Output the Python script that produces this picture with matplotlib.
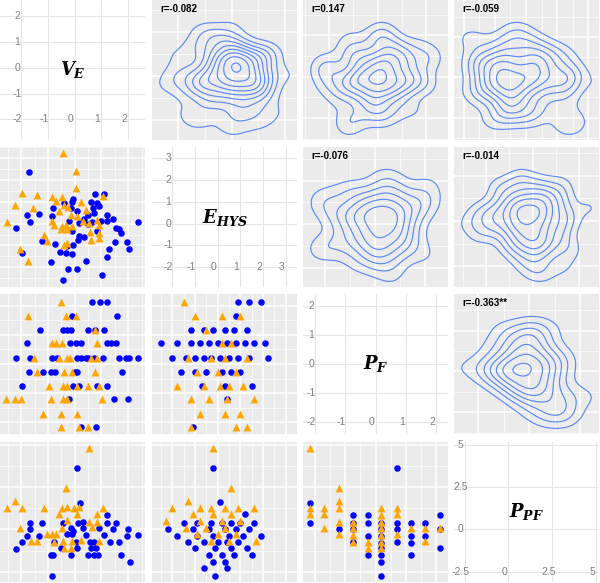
import numpy as np
import matplotlib
matplotlib.use("Agg")
import matplotlib.pyplot as plt
from matplotlib.ticker import MaxNLocator
from matplotlib.transforms import offset_copy

plt.rcParams["mathtext.fontset"] = "custom"
plt.rcParams["mathtext.it"] = "DejaVu Serif:italic:bold"
plt.rcParams["mathtext.rm"] = "DejaVu Serif:bold"

# variables (order of rows / columns)
var_names = [r"$V_E$", r"$E_{HYS}$", r"$P_F$", r"$P_{PF}$"]
var_lims = [(-2.8, 2.63), (-2.9, 3.5), (-2.4, 2.4), (-3.1, 5.15)]
var_breaks = [[-2, -1, 0, 1, 2], [-2, -1, 0, 1, 2, 3], [-2, -1, 0, 1, 2], [-2.5, 0, 2.5, 5]]

# correlation labels of the upper panels (row, col)
r_labels = {(0, 1): "r=-0.082", (0, 2): "r=0.147", (0, 3): "r=-0.059",
            (1, 2): "r=-0.076", (1, 3): "r=-0.014", (2, 3): "r=-0.363**"}

# ---- lower panels: x = column variable, y = row variable ----
# V_E vs E_HYS
ve_ehys_blue_x = [-1.71, 1.08, 0.75, -0.05, -0.09, -0.8, -0.15, 0.85, 0.91, 0.7, -1.78, -1.34, -1.68,
                  -0.84, 0.1, 0.48, 0.73, 1.2, 1.45, 2.35, -2.21, -0.21, 0.16, 0.63, 0.98, 1.2, 1.54,
                  1.66, 1.73, -0.12, 0.16, 0.33, 0.13, 0.83, -1.21, -0.75, -0.05, -0.28, 1.51, 1.95,
                  2.04, 1.29, -1.96, -0.55, -0.34, -0.09, 1.2, -0.88, 0.41, -0.24, 0.08, 1.01, -0.43,
                  0.5, 0.35, -0.4, 0.6]
ve_ehys_blue_y = [2.34, 1.37, 1.35, 1.14, 0.99, 0.72, 0.72, 0.94, 0.79, 0.72, 0.38, 0.44, 0.08,
                  0.33, 0.59, 0.41, 0.49, 0.38, 0.21, 0.08, -0.2, 0.14, 0.03, 0.08, 0.11, 0.11, -0.2,
                  -0.27, -0.43, -0.32, -0.58, -0.62, -0.73, -0.35, -0.81, -0.93, -0.96, -1.04, -0.85, -0.85,
                  -1.16, -1.16, -1.34, -1.31, -1.34, -1.39, -1.54, -1.77, -1.72, -2.07, -2.07, -2.33, -2.56,
                  -0.02, 0.2, 0.95, 1.0]
ve_ehys_orange_x = [-0.43, 0.04, 0.04, -1.99, -1.4, -0.84, -0.49, -2.25, -1.56, -0.71, -0.4, 0.23, 1.04,
                    0.41, -0.59, -0.15, 0.1, -2.55, -0.84, -0.78, -0.46, -0.34, -0.53, -0.28, -0.09, 0.54,
                    0.85, 0.91, -1.15, -1.03, 0.91, 0.6, 0.91, -0.4, -0.28, -2.05, -1.74, 0.58, -0.25, 0.3]
ve_ehys_orange_y = [3.23, 2.42, 1.63, 1.40, 1.32, 1.20, 1.22, 0.87, 0.72, 1.02, 0.87, 0.99, 1.25,
                    0.62, 0.56, 0.41, 0.33, 0.08, 0.11, -0.05, -0.12, -0.05, -0.27, -0.27, -0.12, 0.03,
                    0.18, -0.05, -0.5, -0.81, -0.43, -0.73, -0.65, -0.96, -0.91, -1.14, -1.69, -0.38, 0.75, 0.1]

# V_E vs P_F
ve_pf_blue_x = [0.63, 0.94, 1.2, -0.11, 1.58, -1.31, -0.43, -0.3, -0.15, 0.5, 0.75, 1.1,
                -1.78, -0.18, 0.04, 0.23, 1.2, 1.35, 1.54,
                -2.21, -1.68, -0.84, -0.65, 0.08, 0.23, 0.41, 0.5, 0.73, 1.04, 1.66, 1.91, 2.04, 2.35,
                -1.71, -1.18, -0.9, -0.75, 0.0, 0.1, 1.75,
                -1.96, -0.05, 0.16, 0.85, 1.2, -0.21, 1.48, 1.98, 0.23, 0.79]
ve_pf_blue_y = [2.12, 2.12, 2.12, 1.65, 1.65, 1.16, 1.16, 1.16, 1.16, 1.16, 1.16, 1.16,
                0.72, 0.72, 0.72, 0.72, 0.72, 0.72, 0.72,
                0.19, 0.19, 0.19, 0.19, 0.19, 0.19, 0.19, 0.19, 0.19, 0.19, 0.19, 0.19, 0.19, 0.19,
                -0.26, -0.26, -0.26, -0.26, -0.26, -0.26, -0.26,
                -0.75, -0.75, -0.75, -0.75, -0.75, -1.21, -1.21, -1.21, -2.17, -2.17]
ve_pf_orange_x = [-0.5, -1.74, -0.34, 0.04, 0.76, -0.84, -0.71, -0.49, 0.85,
                  -1.53, -0.59, -0.28, -0.18, 0.6, 0.85, -1.4, -0.4, -0.11, 0.76,
                  -0.96, -0.43, -0.28, 0.1, 0.5, 0.91,
                  -2.59, -2.25, -2.0, -0.88, -0.43, -0.3, 1.01, -1.18, -0.5, 0.08, -0.5, 0.16, 0.51]
ve_pf_orange_y = [2.12, 1.65, 1.65, 1.65, 1.16, 0.72, 0.72, 0.72, 0.72,
                  0.19, 0.19, 0.19, 0.19, 0.19, 0.19, -0.26, -0.26, -0.26, -0.26,
                  -0.75, -0.75, -0.75, -0.75, -0.75, -0.75,
                  -1.21, -1.21, -1.21, -1.21, -1.21, -1.21, -1.21, -1.70, -1.70, -1.70, -2.17, -2.17, -2.17]

# V_E vs P_PF
ve_ppf_blue_x = [0.08, 0.2, 1.2, -1.68, -1.21, -0.43, 0.13, 0.29, 1.2, 1.54, -1.68, -0.15, 0.91, 1.45,
                 1.98, -1.78, -1.34, -0.28, -0.09, 0.41, 1.08, 1.95, 2.35, -1.96, -0.78, 0.04, 0.58,
                 0.73, 1.33, 1.66, -2.21, -0.53, 0.1, 0.6, 0.79, -0.9, -0.81, -0.15, 0.5, 0.73, 0.88,
                 1.73, 2.05, -0.84, -0.05, 0.3]
ve_ppf_blue_y = [3.6, 1.57, 0.85, 0.39, 0.39, 0.39, 0.39, 0.45, 0.39, 0.39, 0.0, 0.06, 0.06, 0.0,
                 0.0, -0.39, -0.39, -0.3, -0.3, -0.35, -0.35, -0.39, -0.35, -0.75, -0.73, -0.73, -0.73,
                 -0.73, -0.75, -0.75, -1.14, -1.12, -1.12, -1.08, -1.12, -1.52, -1.52, -1.52, -1.52, -1.52,
                 -1.52, -1.52, -1.91, -2.76, -0.1, 0.1]
ve_ppf_orange_x = [0.54, -0.31, -2.25, -2.55, -1.99, -1.15, -0.49, -0.28, -0.03, 0.16, 1.04, -0.59,
                   0.1, 0.85, -2.06, -0.28, 0.54, 0.85, -0.46, 0.66, -1.03, -0.84, -0.71, -1.65, -1.4,
                   -0.78, -0.43, -0.09, 0.23, 0.91, -0.4, -0.15]
ve_ppf_orange_y = [4.78, 2.46, 1.67, 1.28, 1.28, 1.28, 1.28, 1.32, 1.28, 1.32, 1.28, 0.89,
                   0.93, 0.89, 0.1, 0.53, 0.45, 0.45, 0.1, 0.14, -0.3, -0.3, -0.3, -0.69, -0.69,
                   -0.73, -0.69, -0.69, -0.65, -0.69, -1.08, -1.08]

# E_HYS vs P_F
ehys_pf_blue_x = [0.9, 1.4, 1.9, 0.8, -1.2, -0.6, -0.2, 0.3, 0.7, 1.3,
                  -2.5, -1.8, -1.2, -0.8, -0.4, 0.0, 0.4, 0.8, 1.2, 1.6, 2.1,
                  -2.0, -1.4, -1.0, -0.6, -0.3, 0.1, 0.5, 0.9, 1.4, 2.2,
                  -1.6, -1.0, -0.5, 0.2, 0.6, 1.0, -0.7, 0.3, 1.5, 0.4, -1.1]
ehys_pf_blue_y = [2.12, 2.12, 2.12, 1.65, 1.16, 1.16, 1.16, 1.16, 1.16, 1.16,
                  0.72, 0.72, 0.72, 0.72, 0.72, 0.72, 0.72, 0.72, 0.72, 0.72, 0.72,
                  0.19, 0.19, 0.19, 0.19, 0.19, 0.19, 0.19, 0.19, 0.19, 0.19,
                  -0.26, -0.26, -0.26, -0.26, -0.26, -0.26, -0.75, -0.75, -0.75, -1.21, -2.17]
ehys_pf_orange_x = [-1.5, -1.0, 0.2, 1.0, -0.5, 0.2, 0.6, -1.3, -0.3, 0.3, 1.3,
                    -0.9, 0.0, 0.8, -1.8, -0.6, 0.1, 0.5, 1.1, -1.2, -0.4, 0.4, 1.6,
                    -0.8, 0.3, 1.0, -1.2, 0.8, 1.3]
ehys_pf_orange_y = [2.12, 1.65, 1.65, 1.65, 1.16, 0.72, 0.72, 0.19, 0.19, 0.19, 0.19,
                    -0.26, -0.26, -0.26, -0.75, -0.75, -0.75, -0.75, -0.75, -1.21, -1.21, -1.21, -1.21,
                    -1.70, -1.70, -1.70, -2.17, -2.17, -2.17]

# E_HYS vs P_PF
ehys_ppf_blue_x = [-0.2, 0.1, 1.2, -1.5, -0.9, -0.3, 0.2, 0.6, 1.0, 1.6, -2.2, -1.1, -0.4, 0.3, 0.8,
                   1.4, -1.8, -0.9, -0.2, 0.5, 1.1, 1.9, -1.3, -0.6, 0.0, 0.4, 0.9, -1.0, -0.1, 0.6,
                   1.3, -0.4, 0.2, 0.7, 1.5, -0.2, 0.3, -0.6, 0.4, -0.1]
ehys_ppf_blue_y = [3.6, 1.6, 0.9, 0.4, 0.4, 0.4, 0.4, 0.4, 0.4, 0.4, 0.0, 0.0, 0.0, 0.0, 0.0,
                   0.0, -0.4, -0.4, -0.4, -0.4, -0.4, -0.4, -0.75, -0.75, -0.75, -0.75, -0.75, -1.1, -1.1, -1.1,
                   -1.1, -1.5, -1.5, -1.5, -1.5, -1.9, -1.9, -2.3, -2.3, -2.76]
ehys_ppf_orange_x = [-0.2, 0.6, -1.3, -2.0, -0.8, -0.3, 0.3, 0.9, 1.6, -1.1, -0.2, 0.6, -2.3, -0.8, 0.2,
                     1.0, -1.4, -0.5, 0.3, -0.9, 0.0, 0.8, -0.3, 0.5, 1.7]
ehys_ppf_orange_y = [4.78, 2.46, 1.67, 1.28, 1.28, 1.28, 1.28, 1.28, 1.28, 0.89, 0.89, 0.89, 0.5, 0.5, 0.5,
                     0.5, 0.1, 0.1, 0.1, -0.3, -0.3, -0.3, -0.7, -0.7, -0.7]

# P_F vs P_PF
pf_ppf_blue_x = [-2.17, -2.17, -1.21, -0.75, -0.75, -0.75, -0.75, -0.26, -0.26, -0.26, -0.26,
                 0.19, 0.19, 0.19, 0.19, 0.19, 0.19, 0.19, 0.19, 0.72, 0.72, 0.72, 0.72,
                 1.16, 1.16, 1.16, 1.16, 1.65, 1.65, 2.12, 2.12, 2.12]
pf_ppf_blue_y = [1.57, 0.39, 0.0, 0.85, 0.39, 0.0, -0.73, 0.85, 0.39, -0.39, -1.52,
                 0.39, 0.0, -0.39, -0.79, -1.12, -1.52, -1.91, -2.76, 3.6, 0.39, 0.0, -0.73,
                 0.39, -0.39, -0.79, -1.52, 0.39, -0.39, 0.85, 0.0, -1.12]
pf_ppf_orange_x = [-2.17, -2.17, -2.17, -1.70, -1.70, -1.70, -1.21, -1.21, -1.21, -1.21, -1.21,
                   -0.75, -0.75, -0.75, -0.75, -0.26, -0.26,
                   0.19, 0.19, 0.19, 0.19, 0.19, 0.19, 0.19, 0.72, 0.72, 0.72,
                   1.16, 1.65, 1.65, 2.12]
pf_ppf_orange_y = [4.78, 1.24, 0.89, 1.24, 0.89, 0.1, 2.46, 1.67, 1.24, 0.45, -0.3,
                   0.45, 0.06, -0.33, -0.73, -0.73, -1.12,
                   1.24, 0.85, 0.45, 0.06, -0.33, -0.73, -1.12, 1.24, 0.89, -0.3,
                   0.06, 0.06, -0.69, 0.1]

lower = {
    (1, 0): (ve_ehys_blue_x, ve_ehys_blue_y, ve_ehys_orange_x, ve_ehys_orange_y),
    (2, 0): (ve_pf_blue_x, ve_pf_blue_y, ve_pf_orange_x, ve_pf_orange_y),
    (3, 0): (ve_ppf_blue_x, ve_ppf_blue_y, ve_ppf_orange_x, ve_ppf_orange_y),
    (2, 1): (ehys_pf_blue_x, ehys_pf_blue_y, ehys_pf_orange_x, ehys_pf_orange_y),
    (3, 1): (ehys_ppf_blue_x, ehys_ppf_blue_y, ehys_ppf_orange_x, ehys_ppf_orange_y),
    (3, 2): (pf_ppf_blue_x, pf_ppf_blue_y, pf_ppf_orange_x, pf_ppf_orange_y),
}

BLUE = "#0000FF"
ORANGE = "#FFA500"
CONTOUR = "#5B8AF2"
W, H = 600, 583
col_x = [0, 152, 303, 454]
row_y = [0, 147, 294, 442]
PW, PH = 145, 140


def minor_breaks(br, lims):
    step = br[1] - br[0]
    m = np.arange(br[0] - step / 2, br[-1] + step, step)
    return [v for v in m if lims[0] <= v <= lims[1]]


def kde2d(x, y, n=120):
    # MASS::kde2d-like estimate with bandwidth.nrd, on a slightly widened grid
    x, y = np.asarray(x), np.asarray(y)

    def bw(v):
        q = np.subtract(*np.percentile(v, [75, 25]))
        return 1.06 * min(np.std(v, ddof=1), q / 1.34) * len(v) ** -0.2

    hx, hy = bw(x), bw(y)
    gx = np.linspace(x.min() - 1.5 * hx, x.max() + 1.5 * hx, n)
    gy = np.linspace(y.min() - 1.5 * hy, y.max() + 1.5 * hy, n)
    kx = np.exp(-0.5 * ((gx[:, None] - x[None, :]) / hx) ** 2)
    ky = np.exp(-0.5 * ((gy[:, None] - y[None, :]) / hy) ** 2)
    z = ky @ kx.T / (2 * np.pi * hx * hy * len(x))
    return gx, gy, z


def style_grey(ax, xl, yl, xbr, ybr):
    ax.set_facecolor("#EBEBEB")
    ax.set_xlim(xl)
    ax.set_ylim(yl)
    ax.set_xticks(xbr)
    ax.set_yticks(ybr)
    ax.set_xticks(minor_breaks(xbr, xl), minor=True)
    ax.set_yticks(minor_breaks(ybr, yl), minor=True)
    ax.grid(which="major", color="white", lw=1.1)
    ax.grid(which="minor", color="white", lw=0.5)


fig = plt.figure(figsize=(W / 100, H / 100), dpi=100)
for i in range(4):
    for j in range(4):
        ax = fig.add_axes([col_x[j] / W, 1 - (row_y[i] + PH) / H, PW / W, PH / H])
        for s in ax.spines.values():
            s.set_visible(False)
        ax.tick_params(length=0, which="both", labelbottom=False, labelleft=False)
        ax.set_axisbelow(True)

        if i == j:
            ax.set_xlim(var_lims[j])
            ax.set_ylim(var_lims[i])
            ax.set_xticks(var_breaks[j])
            ax.set_yticks(var_breaks[i])
            ax.set_facecolor("white")
            ax.grid(which="major", color="#E6E6E6", lw=0.8)
            br = var_breaks[i]
            off = offset_copy(ax.transData, fig=fig, x=-4, y=0, units="dots")
            for k, b in enumerate(br):
                ax.text(b, br[0], f"{b:g}", transform=off, ha="center", va="center",
                        fontsize=7.5, color="#808080", family="Liberation Sans")
                if k > 0:
                    ax.text(br[0], b, f"{b:g}", transform=off, ha="center", va="center",
                            fontsize=7.5, color="#808080", family="Liberation Sans")
            ax.text(0.5, 0.5, var_names[i], transform=ax.transAxes, ha="center",
                    va="center", fontsize=13)
        elif i > j:
            style_grey(ax, var_lims[j], var_lims[i], var_breaks[j], var_breaks[i])
            bx, by, ox, oy = lower[i, j]
            ax.scatter(bx, by, s=22, marker="o", color=BLUE, linewidths=0, zorder=3)
            ax.scatter(ox, oy, s=32, marker="^", color=ORANGE, linewidths=0, zorder=3)
        else:
            # upper panel: own scales, fitted round the density contours
            bx, by, ox, oy = lower[j, i]
            xs = list(by) + list(oy)
            ys = list(bx) + list(ox)
            gx, gy, z = kde2d(xs, ys)
            lv = MaxNLocator(10).tick_values(0, z.max())
            lv = [v for v in lv if 0.1 * z.max() < v < z.max()]
            cs = ax.contour(gx, gy, z, levels=lv, colors=CONTOUR, linewidths=0.85)
            pts = np.vstack([seg for segs in cs.allsegs for seg in segs])
            x0, x1 = pts[:, 0].min(), pts[:, 0].max()
            y0, y1 = pts[:, 1].min(), pts[:, 1].max()
            dx, dy = x1 - x0, y1 - y0
            xl = (x0 - 0.06 * dx, x1 + 0.06 * dx)
            yl = (y0 - 0.05 * dy, y1 + 0.2 * dy)
            loc = MaxNLocator(nbins=5, steps=[1, 2, 2.5, 5, 10])
            xbr = [v for v in loc.tick_values(*xl) if xl[0] <= v <= xl[1]]
            ybr = [v for v in loc.tick_values(*yl) if yl[0] <= v <= yl[1]]
            style_grey(ax, xl, yl, xbr, ybr)
            ax.text(0.06, 0.975, r_labels[i, j], transform=ax.transAxes, ha="left", va="top",
                    fontsize=7, fontweight="bold", family="Liberation Sans")

fig.savefig("out.png", dpi=100)
